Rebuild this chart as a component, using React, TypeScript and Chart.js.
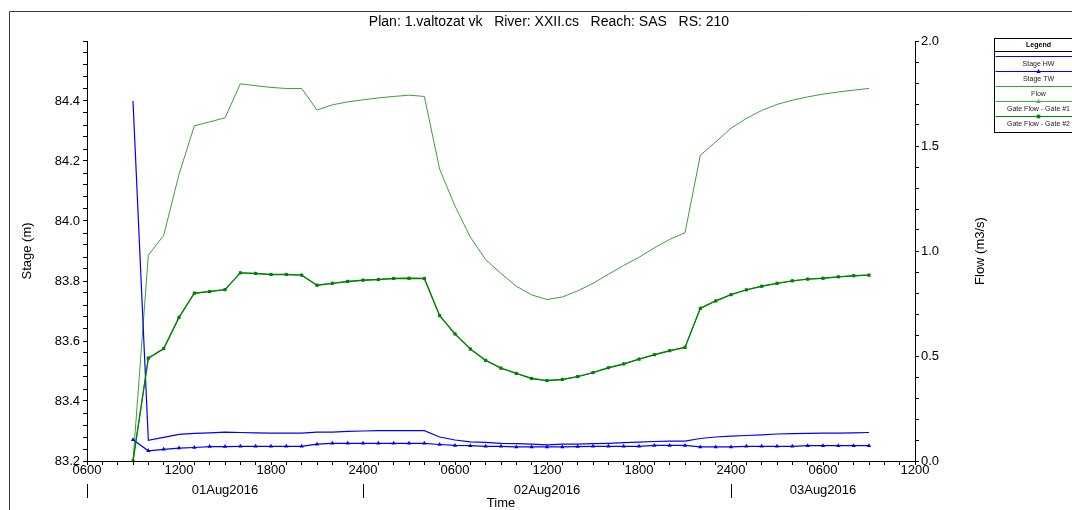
import React, { useEffect, useRef } from "react";
import { Chart, registerables } from "chart.js";

Chart.register(...registerables);

const FONT = '"Liberation Sans", Arial, Helvetica, sans-serif';

const TITLE = "Plan: 1.valtozat vk   River: XXII.cs   Reach: SAS   RS: 210";
const X_TITLE = "Time";
const Y_LEFT_TITLE = "Stage (m)";
const Y_RIGHT_TITLE = "Flow (m3/s)";

// Hours counted from 01Aug2016 0000
const HOURS = [
  9, 10, 11, 12, 13, 14, 15, 16, 17, 18, 19, 20, 21, 22, 23, 24, 25,
  26, 27, 28, 29, 30, 31, 32, 33, 34, 35, 36, 37, 38, 39, 40, 41, 42,
  43, 44, 45, 46, 47, 48, 49, 50, 51, 52, 53, 54, 55, 56, 57,
];

const STAGE_HW = [
  84.4, 83.269, 83.279, 83.289, 83.292, 83.294, 83.296, 83.295, 83.294, 83.293,
  83.293, 83.293, 83.296, 83.296, 83.299, 83.3, 83.301, 83.301, 83.301, 83.301,
  83.28, 83.27, 83.264, 83.262, 83.259, 83.258, 83.256, 83.254, 83.256, 83.256,
  83.258, 83.259, 83.261, 83.263, 83.265, 83.266, 83.266, 83.275, 83.28, 83.283,
  83.285, 83.287, 83.29, 83.291, 83.292, 83.293, 83.293, 83.294, 83.295,
];

const STAGE_TW = [
  83.271, 83.234, 83.239, 83.243, 83.245, 83.248, 83.248, 83.249, 83.249, 83.249,
  83.249, 83.249, 83.256, 83.259, 83.259, 83.259, 83.259, 83.259, 83.259, 83.259,
  83.255, 83.252, 83.251, 83.249, 83.249, 83.247, 83.247, 83.247, 83.247, 83.248,
  83.249, 83.249, 83.249, 83.249, 83.252, 83.252, 83.252, 83.247, 83.247, 83.247,
  83.249, 83.249, 83.249, 83.249, 83.251, 83.251, 83.251, 83.251, 83.251,
];

const FLOW = [
  0, 0.98, 1.074, 1.365, 1.596, 1.615, 1.634, 1.796, 1.787, 1.779,
  1.774, 1.774, 1.671, 1.696, 1.71, 1.72, 1.729, 1.736, 1.742, 1.736,
  1.389, 1.214, 1.066, 0.959, 0.893, 0.832, 0.791, 0.769, 0.781, 0.81,
  0.846, 0.889, 0.931, 0.97, 1.015, 1.055, 1.087, 1.456, 1.519, 1.585,
  1.631, 1.669, 1.698, 1.718, 1.734, 1.747, 1.757, 1.766, 1.774,
];

const GATE_1_FLOW = [
  0, 0.49, 0.535, 0.684, 0.799, 0.807, 0.816, 0.896, 0.893, 0.888,
  0.888, 0.885, 0.837, 0.846, 0.855, 0.861, 0.864, 0.869, 0.87, 0.869,
  0.692, 0.605, 0.533, 0.479, 0.442, 0.417, 0.393, 0.383, 0.388, 0.402,
  0.421, 0.444, 0.462, 0.485, 0.506, 0.525, 0.541, 0.727, 0.762, 0.792,
  0.815, 0.832, 0.846, 0.858, 0.866, 0.87, 0.877, 0.882, 0.885,
];

const GATE_2_FLOW = [
  0, 0.49, 0.535, 0.684, 0.799, 0.807, 0.816, 0.896, 0.893, 0.888,
  0.888, 0.885, 0.837, 0.846, 0.855, 0.861, 0.864, 0.869, 0.87, 0.869,
  0.692, 0.605, 0.533, 0.479, 0.442, 0.417, 0.393, 0.383, 0.388, 0.402,
  0.421, 0.444, 0.462, 0.485, 0.506, 0.525, 0.541, 0.727, 0.762, 0.792,
  0.815, 0.832, 0.846, 0.858, 0.866, 0.87, 0.877, 0.882, 0.885,
];

const DAY_LABELS = ["01Aug2016", "02Aug2016", "03Aug2016"];
const DAY_START_HOURS = [0, 24, 48];

const X_MIN = 6;
const X_MAX = 60;
const STAGE_MIN = 83.2;
const STAGE_MAX = 84.6;
const FLOW_MAX = 2.0;

const BLUE = "#0000ff";
const FLOW_GREEN = "#3c9f3c";
const GATE1_GREEN = "#49b049";
const GATE2_GREEN = "#008000";

function hhmm(h: number): string {
  const r = ((h % 24) + 24) % 24;
  return String(r === 0 ? 24 : r).padStart(2, "0") + "00";
}

function pts(values: number[]) {
  return HOURS.map((h, i) => ({ x: h, y: values[i] }));
}

function range(from: number, to: number, step: number): number[] {
  const out: number[] = [];
  const n = Math.round((to - from) / step);
  for (let i = 0; i <= n; i++) out.push(Math.round((from + i * step) * 1000) / 1000);
  return out;
}

const X_TICKS = range(X_MIN, X_MAX, 1);
const STAGE_TICKS = range(STAGE_MIN, STAGE_MAX, 0.04);
const FLOW_TICKS = range(0, FLOW_MAX, 0.1);

function drawMarker(ctx: CanvasRenderingContext2D, style: string, x: number, y: number, color: string) {
  ctx.fillStyle = color;
  ctx.beginPath();
  if (style === "triangle") {
    ctx.moveTo(x, y - 2.5);
    ctx.lineTo(x + 2.2, y + 1.5);
    ctx.lineTo(x - 2.2, y + 1.5);
    ctx.closePath();
  } else {
    ctx.rect(x - 1.8, y - 1.8, 3.6, 3.6);
  }
  ctx.fill();
}

const LEGEND_ITEMS = [
  { label: "Stage HW", color: BLUE, marker: "" },
  { label: "Stage TW", color: BLUE, marker: "triangle" },
  { label: "Flow", color: FLOW_GREEN, marker: "" },
  { label: "Gate Flow - Gate #1", color: GATE1_GREEN, marker: "triangle" },
  { label: "Gate Flow - Gate #2", color: GATE2_GREEN, marker: "rect" },
];

const decorations = {
  id: "decorations",
  afterDraw(chart: any) {
    const ctx: CanvasRenderingContext2D = chart.ctx;
    const xs = chart.scales.x;
    const area = chart.chartArea;
    ctx.save();

    // outer frame
    ctx.strokeStyle = "#3a3a3a";
    ctx.lineWidth = 1;
    ctx.beginPath();
    ctx.moveTo(9.5, 510);
    ctx.lineTo(9.5, 11.5);
    ctx.lineTo(1072, 11.5);
    ctx.stroke();

    // title
    ctx.fillStyle = "#000";
    ctx.font = `14px ${FONT}`;
    ctx.textAlign = "center";
    ctx.textBaseline = "middle";
    ctx.fillText(TITLE, 549, 22);

    // axis titles
    ctx.font = `13px ${FONT}`;
    const midY = (area.top + area.bottom) / 2;
    ctx.save();
    ctx.translate(27, midY);
    ctx.rotate(-Math.PI / 2);
    ctx.fillText(Y_LEFT_TITLE, 0, 0);
    ctx.restore();
    ctx.save();
    ctx.translate(980, midY);
    ctx.rotate(-Math.PI / 2);
    ctx.fillText(Y_RIGHT_TITLE, 0, 0);
    ctx.restore();
    ctx.fillText(X_TITLE, (area.left + area.right) / 2, 503);

    // day labels and separators
    ctx.strokeStyle = "#000";
    DAY_START_HOURS.forEach((h, i) => {
      const start = Math.max(h, X_MIN);
      const end = Math.min(h + 24, X_MAX);
      const x0 = xs.getPixelForValue(start);
      const x1 = xs.getPixelForValue(end);
      const px = Math.round(x0) + 0.5;
      ctx.beginPath();
      ctx.moveTo(px, 484);
      ctx.lineTo(px, 498);
      ctx.stroke();
      ctx.fillText(DAY_LABELS[i], (x0 + x1) / 2, 490);
    });

    // legend box
    const lx = 994.5;
    const ly = 38.5;
    const lw = 88;
    const lh = 94;
    const cx = lx + lw / 2;
    ctx.fillStyle = "#fff";
    ctx.fillRect(lx, ly, lw, lh);
    ctx.strokeStyle = "#000";
    ctx.strokeRect(lx, ly, lw, lh);
    ctx.beginPath();
    ctx.moveTo(lx, 51.5);
    ctx.lineTo(lx + lw, 51.5);
    ctx.stroke();
    ctx.fillStyle = "#000";
    ctx.font = `bold 7px ${FONT}`;
    ctx.fillText("Legend", cx, 45);
    ctx.font = `7px ${FONT}`;
    LEGEND_ITEMS.forEach((item, i) => {
      const y = 56.5 + i * 15;
      ctx.strokeStyle = item.color;
      ctx.lineWidth = 1;
      ctx.beginPath();
      ctx.moveTo(lx + 1, y);
      ctx.lineTo(lx + lw, y);
      ctx.stroke();
      if (item.marker) drawMarker(ctx, item.marker, cx, y, item.color);
      ctx.fillStyle = "#222";
      ctx.fillText(item.label, cx, y + 7.5);
    });

    ctx.restore();
  },
};

export default function App() {
  const canvasRef = useRef<HTMLCanvasElement | null>(null);

  useEffect(() => {
    const canvas = canvasRef.current;
    if (!canvas) return;
    const tickFont = { family: FONT, size: 13 };

    const chart = new Chart(canvas, {
      type: "line",
      data: {
        datasets: [
          {
            label: "Stage HW",
            data: pts(STAGE_HW),
            yAxisID: "y",
            borderColor: BLUE,
            borderWidth: 1.2,
            pointRadius: 0,
            order: 1,
          },
          {
            label: "Stage TW",
            data: pts(STAGE_TW),
            yAxisID: "y",
            borderColor: BLUE,
            backgroundColor: BLUE,
            borderWidth: 1.2,
            pointStyle: "triangle",
            pointRadius: 2.5,
            pointBorderWidth: 0,
            order: 1,
          },
          {
            label: "Flow",
            data: pts(FLOW),
            yAxisID: "y1",
            borderColor: FLOW_GREEN,
            borderWidth: 1,
            pointRadius: 0,
            order: 2,
          },
          {
            label: "Gate Flow - Gate #1",
            data: pts(GATE_1_FLOW),
            yAxisID: "y1",
            borderColor: GATE1_GREEN,
            backgroundColor: GATE1_GREEN,
            borderWidth: 1,
            pointStyle: "triangle",
            pointRadius: 2.2,
            pointBorderWidth: 0,
            order: 3,
          },
          {
            label: "Gate Flow - Gate #2",
            data: pts(GATE_2_FLOW),
            yAxisID: "y1",
            borderColor: GATE2_GREEN,
            backgroundColor: GATE2_GREEN,
            borderWidth: 1.4,
            pointStyle: "rect",
            pointRadius: 2.2,
            pointBorderWidth: 0,
            order: 0,
          },
        ],
      },
      options: {
        animation: false,
        responsive: false,
        maintainAspectRatio: false,
        layout: { padding: { top: 41, left: 0, right: 0, bottom: 0 } },
        plugins: {
          legend: { display: false },
          title: { display: false },
          tooltip: { enabled: false },
        },
        elements: { line: { tension: 0 } },
        scales: {
          x: {
            type: "linear",
            position: "bottom",
            min: X_MIN,
            max: X_MAX,
            afterBuildTicks: (s: any) => {
              s.ticks = X_TICKS.map((v) => ({ value: v }));
            },
            afterFit: (s: any) => {
              s.height = 49;
            },
            ticks: {
              autoSkip: false,
              maxRotation: 0,
              minRotation: 0,
              color: "#000",
              font: tickFont,
              padding: -2,
              callback: (v: any) => (Number(v) % 6 === 0 ? hhmm(Number(v)) : ""),
            },
            grid: { drawOnChartArea: false, drawTicks: true, tickLength: 4, color: "#000" },
            border: { display: true, color: "#000" },
          },
          y: {
            type: "linear",
            position: "left",
            min: STAGE_MIN,
            max: STAGE_MAX,
            afterBuildTicks: (s: any) => {
              s.ticks = STAGE_TICKS.map((v) => ({ value: v }));
            },
            afterFit: (s: any) => {
              s.width = 87;
            },
            ticks: {
              autoSkip: false,
              color: "#000",
              font: tickFont,
              padding: 3,
              callback: (v: any) => {
                const n = Math.round(Number(v) * 100);
                return n % 20 === 0 && Number(v) < STAGE_MAX - 0.01 ? Number(v).toFixed(1) : "";
              },
            },
            grid: { drawOnChartArea: false, drawTicks: true, tickLength: 4, color: "#000" },
            border: { display: true, color: "#000" },
          },
          y1: {
            type: "linear",
            position: "right",
            min: 0,
            max: FLOW_MAX,
            afterBuildTicks: (s: any) => {
              s.ticks = FLOW_TICKS.map((v) => ({ value: v }));
            },
            afterFit: (s: any) => {
              s.width = 157;
            },
            ticks: {
              autoSkip: false,
              color: "#000",
              font: tickFont,
              padding: 2,
              callback: (v: any) => {
                const n = Math.round(Number(v) * 10);
                return n % 5 === 0 ? Number(v).toFixed(1) : "";
              },
            },
            grid: { drawOnChartArea: false, drawTicks: true, tickLength: 4, color: "#000" },
            border: { display: true, color: "#000" },
          },
        },
      },
      plugins: [decorations],
    });

    return () => chart.destroy();
  }, []);

  return (
    <div
      style={{
        position: "fixed",
        left: 0,
        top: 0,
        width: 1072,
        height: 510,
        overflow: "hidden",
        background: "#fff",
      }}
    >
      <canvas ref={canvasRef} width={1072} height={510} style={{ display: "block" }} />
    </div>
  );
}
